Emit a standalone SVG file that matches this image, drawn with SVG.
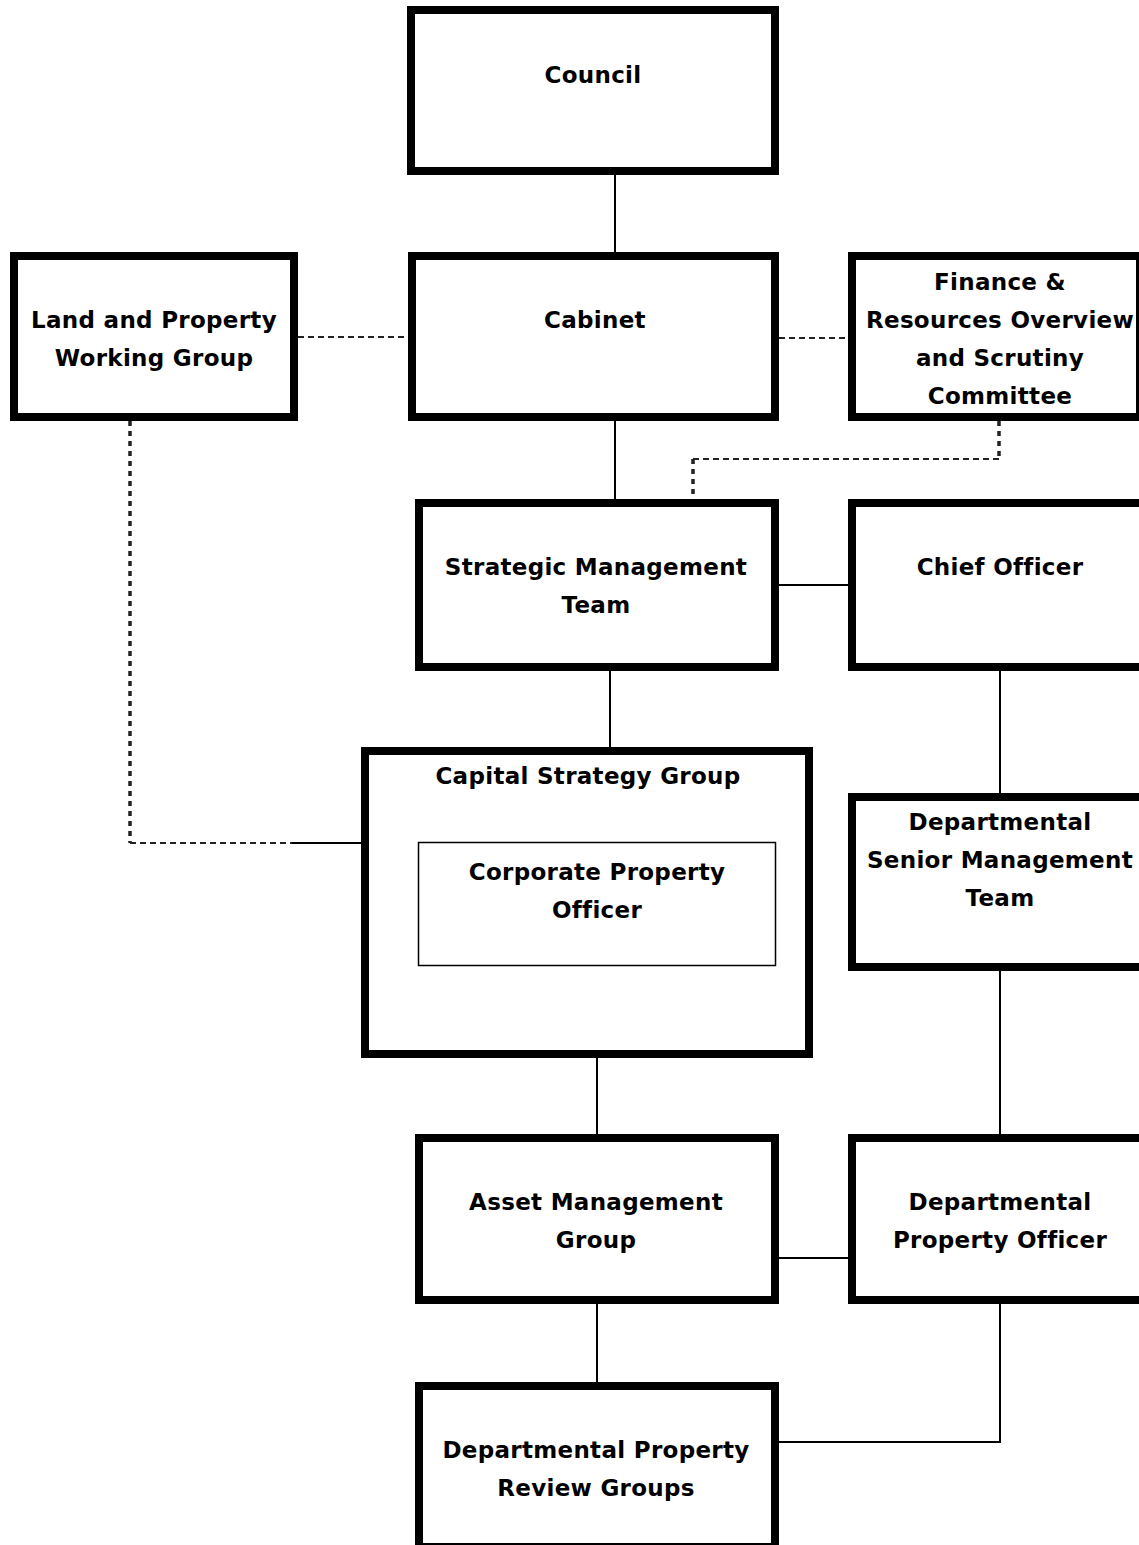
<svg xmlns="http://www.w3.org/2000/svg" width="1139" height="1545" viewBox="0 0 1139 1545">
<style>
.box{fill:#fff;stroke:#000;stroke-width:8}
.inner{fill:#fff;stroke:#000;stroke-width:1.5}
.ln{fill:none;stroke:#000;stroke-width:2}
.dh{fill:none;stroke:#222;stroke-width:2;stroke-dasharray:6 4}
.dv{fill:none;stroke:#222;stroke-width:3.5;stroke-dasharray:5 5}
text{font-family:"DejaVu Sans",Verdana,sans-serif;font-weight:bold;font-size:23px;letter-spacing:0.3px;fill:#000;text-anchor:middle}
</style>
<rect width="1139" height="1545" fill="#fff"/>
<g id="connectors">
<line class="ln" x1="615" y1="175" x2="615" y2="252"/>
<line class="ln" x1="615" y1="421" x2="615" y2="499"/>
<line class="dh" x1="298" y1="337" x2="408" y2="337"/>
<line class="dh" x1="779" y1="338" x2="848" y2="338"/>
<path class="dv" d="M999 421 V459"/>
<path class="dh" d="M999 459 H693"/>
<path class="dv" d="M693 459 V499"/>
<line class="ln" x1="779" y1="585" x2="848" y2="585"/>
<line class="ln" x1="610" y1="671" x2="610" y2="747"/>
<path class="dv" d="M130 421 V843"/>
<path class="dh" d="M130 843 H292"/>
<line class="ln" x1="292" y1="843" x2="361" y2="843"/>
<line class="ln" x1="1000" y1="671" x2="1000" y2="793"/>
<line class="ln" x1="1000" y1="971" x2="1000" y2="1134"/>
<line class="ln" x1="597" y1="1058" x2="597" y2="1134"/>
<line class="ln" x1="779" y1="1258" x2="848" y2="1258"/>
<line class="ln" x1="597" y1="1304" x2="597" y2="1382"/>
<path class="ln" d="M1000 1304 V1442 H779"/>
</g>
<g id="council"><rect class="box" x="411" y="10" width="364" height="161"/><text x="593" y="83">Council</text></g>
<g id="land-property"><rect class="box" x="14" y="256" width="280" height="161"/><text x="154" y="328">Land and Property</text><text x="154" y="366">Working Group</text></g>
<g id="cabinet"><rect class="box" x="412" y="256" width="363" height="161"/><text x="595" y="328">Cabinet</text></g>
<g id="finance"><rect class="box" x="852" y="256" width="288" height="161"/><text x="1000" y="290">Finance &amp;</text><text x="1000" y="328">Resources Overview</text><text x="1000" y="366">and Scrutiny</text><text x="1000" y="404">Committee</text></g>
<g id="smt"><rect class="box" x="419" y="503" width="356" height="164"/><text x="596" y="575">Strategic Management</text><text x="596" y="613">Team</text></g>
<g id="chief-officer"><rect class="box" x="852" y="503" width="300" height="164"/><text x="1000" y="575">Chief Officer</text></g>
<g id="csg"><rect class="box" x="365" y="751" width="444" height="303"/><text x="588" y="784">Capital Strategy Group</text></g>
<g id="cpo"><rect class="inner" x="418.5" y="842.5" width="357" height="123"/><text x="597" y="880">Corporate Property</text><text x="597" y="918">Officer</text></g>
<g id="dept-smt"><rect class="box" x="852" y="797" width="300" height="170"/><text x="1000" y="830">Departmental</text><text x="1000" y="868">Senior Management</text><text x="1000" y="906">Team</text></g>
<g id="amg"><rect class="box" x="419" y="1138" width="356" height="162"/><text x="596" y="1210">Asset Management</text><text x="596" y="1248">Group</text></g>
<g id="dpo"><rect class="box" x="852" y="1138" width="300" height="162"/><text x="1000" y="1210">Departmental</text><text x="1000" y="1248">Property Officer</text></g>
<g id="dprg"><rect class="box" x="419" y="1386" width="356" height="161"/><text x="596" y="1458">Departmental Property</text><text x="596" y="1496">Review Groups</text></g>
</svg>
